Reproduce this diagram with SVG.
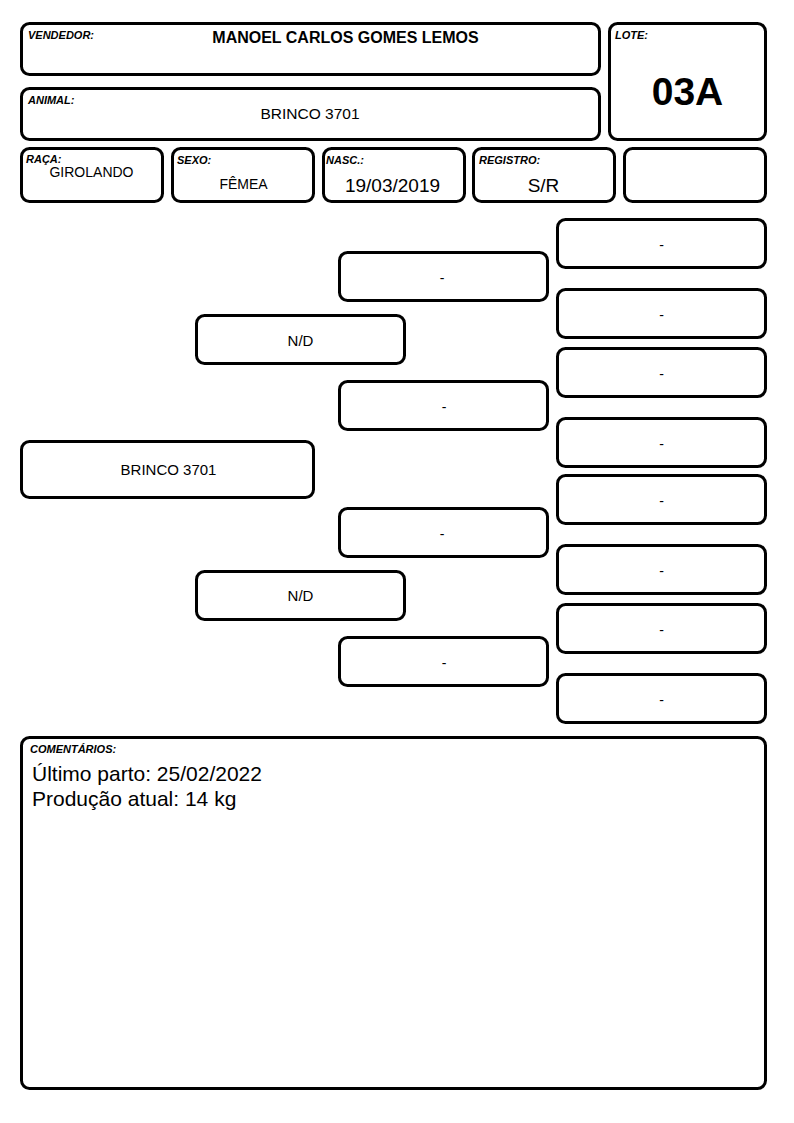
<svg xmlns="http://www.w3.org/2000/svg" width="794" height="1123" viewBox="0 0 794 1123">
<style>
rect.b{fill:#fff;stroke:#000;stroke-width:3;}
text{font-family:"Liberation Sans",Arial,sans-serif;fill:#000;}
.lbl{font-size:11px;font-weight:bold;font-style:italic;}
.c{text-anchor:middle;}
.v{font-size:14px;}
.big{font-size:19px;}
.n{font-size:15px;}
.d{font-size:14px;}
</style>
<rect width="794" height="1123" fill="#fff"/>
<g id="vendedor">
<rect class="b" x="21.5" y="23.5" width="578" height="51" rx="8"/>
<text class="lbl" x="28" y="39">VENDEDOR:</text>
<text class="c" x="345.5" y="43" style="font-size:16px;font-weight:bold">MANOEL CARLOS GOMES LEMOS</text>
</g>
<g id="animal">
<rect class="b" x="21.5" y="88.5" width="578" height="51" rx="8"/>
<text class="lbl" x="28" y="104">ANIMAL:</text>
<text class="c" x="310" y="119" style="font-size:15.5px">BRINCO 3701</text>
</g>
<g id="lote">
<rect class="b" x="609.5" y="23.5" width="156" height="116" rx="8"/>
<text class="lbl" x="615" y="39">LOTE:</text>
<text class="c" x="687.5" y="105" style="font-size:39px;font-weight:bold">03A</text>
</g>
<g id="raca">
<rect class="b" x="21.5" y="148.5" width="141" height="53" rx="8"/>
<text class="lbl" x="26" y="163">RAÇA:</text>
<text class="c v" x="91.5" y="177">GIROLANDO</text>
</g>
<g id="sexo">
<rect class="b" x="172.5" y="148.5" width="141" height="53" rx="8"/>
<text class="lbl" x="177" y="164">SEXO:</text>
<text class="c v" x="243.5" y="189">FÊMEA</text>
</g>
<g id="nasc">
<rect class="b" x="323.5" y="148.5" width="141" height="53" rx="8"/>
<text class="lbl" x="326" y="164">NASC.:</text>
<text class="c big" x="392.5" y="192">19/03/2019</text>
</g>
<g id="registro">
<rect class="b" x="473.5" y="148.5" width="141" height="53" rx="8"/>
<text class="lbl" x="479" y="164">REGISTRO:</text>
<text class="c big" x="543.5" y="192">S/R</text>
</g>
<g id="extra">
<rect class="b" x="624.5" y="148.5" width="141" height="53" rx="8"/>
</g>
<g id="animal-node">
<rect class="b" x="21.5" y="441.5" width="292" height="56" rx="8"/>
<text class="c n" x="168.5" y="475">BRINCO 3701</text>
</g>
<g id="pai">
<rect class="b" x="196.5" y="315.5" width="208" height="48" rx="8"/>
<text class="c n" x="300.5" y="346">N/D</text>
</g>
<g id="mae">
<rect class="b" x="196.5" y="571.5" width="208" height="48" rx="8"/>
<text class="c n" x="300.5" y="601">N/D</text>
</g>
<g id="avo1">
<rect class="b" x="339.5" y="252.5" width="208" height="48" rx="8"/>
<text class="c d" x="442" y="283">-</text>
</g>
<g id="avo2">
<rect class="b" x="339.5" y="381.5" width="208" height="48" rx="8"/>
<text class="c d" x="444" y="412">-</text>
</g>
<g id="avo3">
<rect class="b" x="339.5" y="508.5" width="208" height="48" rx="8"/>
<text class="c d" x="442" y="539">-</text>
</g>
<g id="avo4">
<rect class="b" x="339.5" y="637.5" width="208" height="48" rx="8"/>
<text class="c d" x="444" y="668">-</text>
</g>
<g id="bisavo1">
<rect class="b" x="557.5" y="219.5" width="208" height="48" rx="8"/>
<text class="c d" x="661.5" y="250">-</text>
</g>
<g id="bisavo2">
<rect class="b" x="557.5" y="289.5" width="208" height="48" rx="8"/>
<text class="c d" x="661.5" y="320">-</text>
</g>
<g id="bisavo3">
<rect class="b" x="557.5" y="348.5" width="208" height="48" rx="8"/>
<text class="c d" x="661.5" y="379">-</text>
</g>
<g id="bisavo4">
<rect class="b" x="557.5" y="418.5" width="208" height="48" rx="8"/>
<text class="c d" x="661.5" y="449">-</text>
</g>
<g id="bisavo5">
<rect class="b" x="557.5" y="475.5" width="208" height="48" rx="8"/>
<text class="c d" x="661.5" y="506">-</text>
</g>
<g id="bisavo6">
<rect class="b" x="557.5" y="545.5" width="208" height="48" rx="8"/>
<text class="c d" x="661.5" y="576">-</text>
</g>
<g id="bisavo7">
<rect class="b" x="557.5" y="604.5" width="208" height="48" rx="8"/>
<text class="c d" x="661.5" y="635">-</text>
</g>
<g id="bisavo8">
<rect class="b" x="557.5" y="674.5" width="208" height="48" rx="8"/>
<text class="c d" x="661.5" y="705">-</text>
</g>
<g id="connectors"></g>
<g id="comentarios">
<rect class="b" x="21.5" y="737.5" width="744" height="351" rx="8"/>
<text class="lbl" x="30" y="753">COMENTÁRIOS:</text>
<text x="32" y="781" style="font-size:21px">Último parto: 25/02/2022</text>
<text x="32" y="806" style="font-size:21px">Produção atual: 14 kg</text>
</g>
</svg>
